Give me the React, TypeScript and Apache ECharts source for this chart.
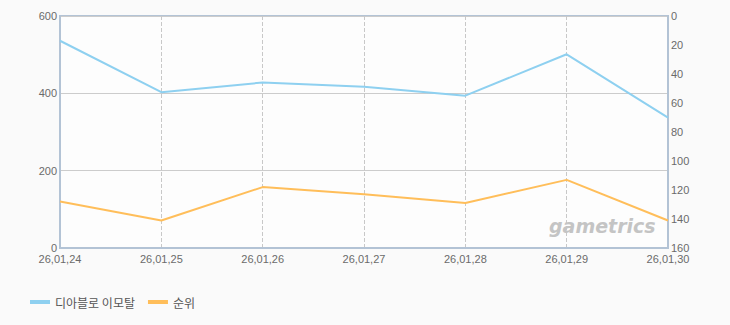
import React, { useEffect, useRef } from "react";
import * as echarts from "echarts";

const categories = ["26,01,24", "26,01,25", "26,01,26", "26,01,27", "26,01,28", "26,01,29", "26,01,30"];
const gameValues = [536, 403, 428, 417, 394, 501, 337];
const rankValues = [128, 141, 118, 123, 129, 113, 141];
const seriesNames = ["디아블로 이모탈", "순위"];

export default function App() {
  const ref = useRef<HTMLDivElement>(null);
  useEffect(() => {
    const chart = echarts.init(ref.current!, null, { renderer: "svg" });
    const labelFont = { color: "#6a6a6a", fontSize: 11, fontFamily: "'Liberation Sans', Arial, sans-serif" };
    chart.setOption({
      animation: false,
      backgroundColor: "#fafafa",
      grid: {
        left: 60,
        right: 62,
        top: 16,
        bottom: 77,
        show: true,
        backgroundColor: "#fdfdfd",
        borderColor: "#b3c3d5",
        borderWidth: 2,
      },
      legend: {
        left: 25,
        top: 291,
        itemWidth: 20,
        itemHeight: 4,
        itemGap: 13,
        icon: "rect",
        textStyle: { color: "#555", fontSize: 12, fontFamily: "'Noto Sans CJK KR', sans-serif" },
        data: seriesNames,
      },
      xAxis: {
        type: "category",
        data: categories,
        boundaryGap: false,
        axisLine: { show: true, lineStyle: { color: "#b3c3d5", width: 2 } },
        axisTick: { show: false },
        axisLabel: { ...labelFont, margin: 5, showMaxLabel: true, showMinLabel: true, interval: 0 },
        splitLine: { show: true, lineStyle: { color: "#c8c8c8", type: "dashed", width: 1 } },
      },
      yAxis: [
        {
          type: "value",
          min: 0,
          max: 600,
          interval: 200,
          axisLine: { show: true, lineStyle: { color: "#b3c3d5", width: 2 } },
          axisTick: { show: false },
          axisLabel: { ...labelFont, margin: 3 },
          splitLine: { show: true, lineStyle: { color: "#cccccc", width: 1 } },
        },
        {
          type: "value",
          min: 0,
          max: 160,
          interval: 20,
          inverse: true,
          axisLine: { show: true, lineStyle: { color: "#b3c3d5", width: 2 } },
          axisTick: { show: false },
          axisLabel: { ...labelFont, margin: 3 },
          splitLine: { show: false },
        },
      ],
      graphic: [
        {
          type: "text",
          left: 549,
          top: 216,
          z: 1,
          style: {
            text: "gametrics",
            fill: "#c4c4c4",
            font: "italic bold 19px 'DejaVu Sans', sans-serif",
          },
        },
      ],
      series: [
        {
          name: seriesNames[0],
          type: "line",
          data: gameValues,
          yAxisIndex: 0,
          symbol: "none",
          lineStyle: { color: "#8ed0f0", width: 2 },
          itemStyle: { color: "#8ed0f0" },
          z: 3,
        },
        {
          name: seriesNames[1],
          type: "line",
          data: rankValues,
          yAxisIndex: 1,
          symbol: "none",
          lineStyle: { color: "#ffbe5a", width: 2 },
          itemStyle: { color: "#ffbe5a" },
          z: 3,
        },
      ],
    });
    return () => chart.dispose();
  }, []);
  return <div ref={ref} style={{ width: 730, height: 325, position: "absolute", left: 0, top: 0 }} />;
}
